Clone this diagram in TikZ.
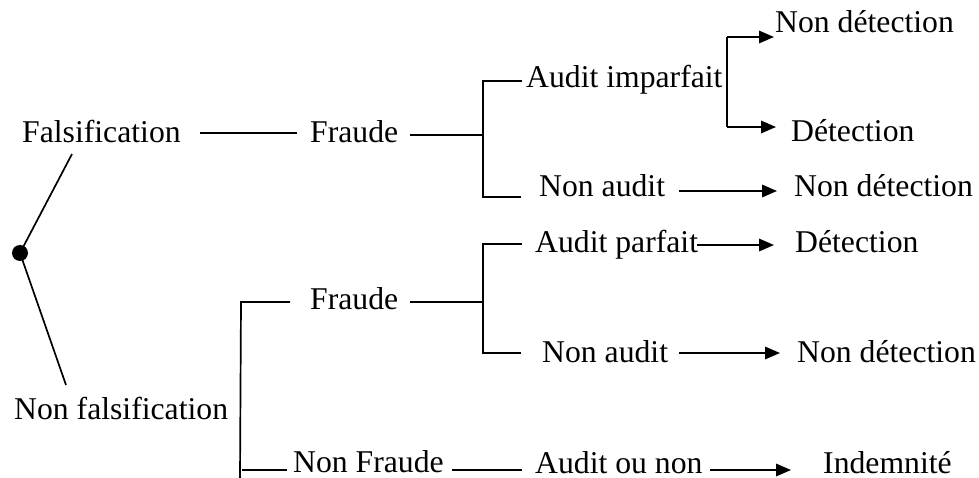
\documentclass[tikz,border=0pt]{standalone}
\usepackage{fontspec}
\setmainfont{Liberation Serif}
\usetikzlibrary{arrows.meta}
\begin{document}
\begin{tikzpicture}[x=1pt,y=-1pt,
  lbl/.style={anchor=base west,inner sep=0pt,font=\fontsize{31.7}{38}\selectfont},
  ln/.style={line width=1.7pt},
  arr/.style={line width=1.7pt,-{Triangle[length=15pt,width=12.5pt]}}]
\useasboundingbox (0,0) rectangle (979,478);
% texts
\node[lbl] (fals) at (22,143) {Falsification};
\node[lbl] (fr1) at (310,143) {Fraude};
\node[lbl] (ai) at (526,88) {Audit imparfait};
\node[lbl] (nd1) at (775,33) {Non détection};
\node[lbl] (det1) at (791,142) {Détection};
\node[lbl] (na1) at (539,197) {Non audit};
\node[lbl] (nd2) at (794,197) {Non détection};
\node[lbl] (ap) at (535,253) {Audit parfait};
\node[lbl] (det2) at (795,253) {Détection};
\node[lbl] (fr2) at (310,309) {Fraude};
\node[lbl] (na2) at (542,362) {Non audit};
\node[lbl] (nd3) at (797,362) {Non détection};
\node[lbl] (nfals) at (14,419) {Non falsification};
\node[lbl] (nfr) at (293,472.5) {Non Fraude};
\node[lbl] (aon) at (535,473) {Audit ou non};
\node[lbl] (ind) at (823,473) {Indemnité};
% root
\node[circle,fill=black,inner sep=0pt,minimum size=16pt] (root) at (20,253) {};
\coordinate (r1) at (72,154);
\coordinate (r2) at (66,385);
\draw[ln] (root.center) -- (r1);
\draw[ln] (root.center) -- (r2);
% falsification -> fraude
\coordinate (a1) at (200,133); \coordinate (a2) at (297,133);
\draw[ln] (a1) -- (a2);
% fraude (top) -> bracket
\coordinate (b0) at (410,135); \coordinate (b1) at (483,135);
\draw[ln] (b0) -- (b1);
\coordinate (bt) at (483,81); \coordinate (bte) at (522,81);
\coordinate (bb) at (483,197); \coordinate (bbe) at (521,197);
\draw[ln] (bte) -- (bt) -- (bb) -- (bbe);
% audit imparfait bracket
\coordinate (ct) at (727,37); \coordinate (cb) at (727,127);
\coordinate (cte) at (774,37); \coordinate (cbe) at (776,127);
\draw[ln] (ct) -- (cb);
\draw[arr] (ct) -- (cte);
\draw[arr] (cb) -- (cbe);
% non audit top
\coordinate (d0) at (679,191); \coordinate (d1) at (777,191);
\draw[arr] (d0) -- (d1);
% fraude (lower) -> bracket
\coordinate (e0) at (410,302); \coordinate (e1) at (483,302);
\draw[ln] (e0) -- (e1);
\coordinate (et) at (483,244); \coordinate (ete) at (522,244);
\coordinate (eb) at (483,353); \coordinate (ebe) at (521,353);
\draw[ln] (ete) -- (et) -- (eb) -- (ebe);
% audit parfait arrow
\coordinate (f0) at (697,245); \coordinate (f1) at (774,245);
\draw[arr] (f0) -- (f1);
% non audit lower arrow
\coordinate (g0) at (679,353); \coordinate (g1) at (780,353);
\draw[arr] (g0) -- (g1);
% left bracket (non falsification)
\coordinate (h0) at (290,302); \coordinate (h1) at (241,302);
\coordinate (h2) at (240,478);
\draw[ln] (h0) -- (h1) -- (h2);
\coordinate (h3) at (242,470); \coordinate (h4) at (287,470);
\draw[ln] (h3) -- (h4);
% non fraude -> audit ou non
\coordinate (k0) at (452,470); \coordinate (k1) at (522,470);
\draw[ln] (k0) -- (k1);
% audit ou non -> indemnite
\coordinate (m0) at (710,470); \coordinate (m1) at (791,470);
\draw[arr] (m0) -- (m1);
\end{tikzpicture}
\end{document}
